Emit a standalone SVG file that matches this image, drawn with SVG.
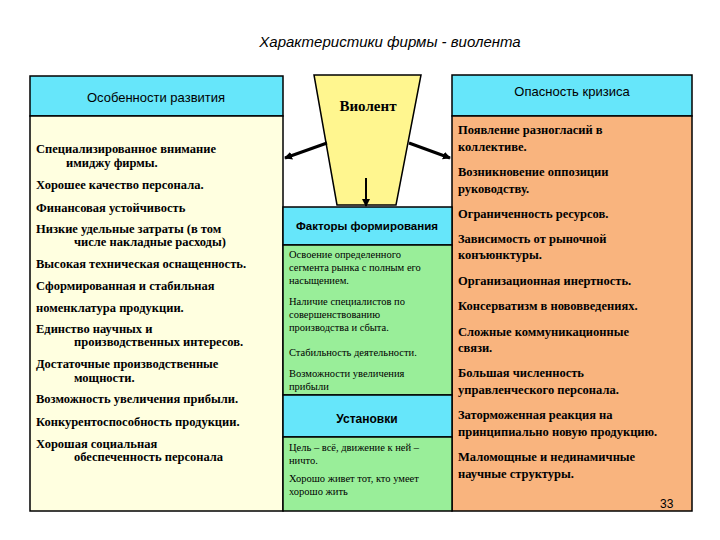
<svg xmlns="http://www.w3.org/2000/svg" width="720" height="540" viewBox="0 0 720 540">
<style>
.b{stroke:#000;stroke-width:1.5}
.h{font-family:'Liberation Sans',Arial,sans-serif;font-size:13px}
.t{font-family:'Liberation Serif','Times New Roman',serif;font-size:12.5px;font-weight:bold}
.s{font-family:'Liberation Serif','Times New Roman',serif;font-size:10.5px}
</style>
<defs><marker id="a" markerWidth="8" markerHeight="8" refX="7" refY="4" orient="auto" markerUnits="userSpaceOnUse"><path d="M0,0L8,4L0,8z"/></marker></defs>
<rect width="720" height="540" fill="#fff"/>
<text x="390" y="47" text-anchor="middle" font-family="Liberation Sans,Arial,sans-serif" font-size="15" font-style="italic">Характеристики фирмы - виолента</text>
<g id="left">
<rect x="30" y="76" width="253" height="40" fill="#66E6FA" class="b"/>
<rect x="30" y="116" width="253" height="395" fill="#FFFFE0" class="b"/>
<text class="h" x="156" y="102" text-anchor="middle">Особенности развития</text>
<g class="t" font-family="Liberation Serif, serif">
<text x="36" y="153">Специализированное внимание</text>
<text x="66" y="167">имиджу фирмы.</text>
<text x="36" y="189">Хорошее качество персонала.</text>
<text x="36" y="212">Финансовая устойчивость</text>
<text x="36" y="233">Низкие удельные затраты (в том</text>
<text x="74" y="246">числе накладные расходы)</text>
<text x="36" y="268">Высокая техническая оснащенность.</text>
<text x="36" y="290">Сформированная и стабильная</text>
<text x="36" y="312">номенклатура продукции.</text>
<text x="36" y="333">Единство научных и</text>
<text x="74" y="346">производственных интересов.</text>
<text x="36" y="368">Достаточные производственные</text>
<text x="74" y="382">мощности.</text>
<text x="36" y="403">Возможность увеличения прибыли.</text>
<text x="36" y="426">Конкурентоспособность продукции.</text>
<text x="36" y="448">Хорошая социальная</text>
<text x="74" y="461">обеспеченность персонала</text>
</g>
</g>
<g id="right">
<rect x="452" y="75" width="240" height="41" fill="#66E6FA" class="b"/>
<rect x="452" y="116" width="240" height="395" fill="#F9B47E" class="b"/>
<text class="h" x="572" y="96" text-anchor="middle">Опасность кризиса</text>
<g class="t" font-family="Liberation Serif, serif">
<text x="458" y="134">Появление разногласий в</text>
<text x="458" y="151">коллективе.</text>
<text x="458" y="176">Возникновение оппозиции</text>
<text x="458" y="193">руководству.</text>
<text x="458" y="218">Ограниченность ресурсов.</text>
<text x="458" y="243">Зависимость от рыночной</text>
<text x="458" y="259">конъюнктуры.</text>
<text x="458" y="285">Организационная инертность.</text>
<text x="458" y="310">Консерватизм в нововведениях.</text>
<text x="458" y="336">Сложные коммуникационные</text>
<text x="458" y="352">связи.</text>
<text x="458" y="377">Большая численность</text>
<text x="458" y="394">управленческого персонала.</text>
<text x="458" y="419">Заторможенная реакция на</text>
<text x="458" y="436">принципиально новую продукцию.</text>
<text x="458" y="461">Маломощные и нединамичные</text>
<text x="458" y="478">научные структуры.</text>
</g>
<text x="660" y="508" font-family="Liberation Sans,Arial,sans-serif" font-size="12">33</text>
</g>
<g id="violent">
<polygon points="314,75 421,75 396,205 337,205" fill="#FFF68F" class="b"/>
<text x="368" y="111" text-anchor="middle" font-family="Liberation Serif, serif" font-size="15" font-weight="bold">Виолент</text>
</g>
<g id="center">
<rect x="283" y="207" width="169" height="38" fill="#66E6FA" class="b"/>
<rect x="283" y="245" width="169" height="150" fill="#99EE99" class="b"/>
<rect x="283" y="395" width="169" height="42" fill="#66E6FA" class="b"/>
<rect x="283" y="437" width="169" height="74" fill="#99EE99" class="b"/>
<text x="367" y="230" text-anchor="middle" font-family="Liberation Sans,Arial,sans-serif" font-size="11.5" font-weight="bold">Факторы формирования</text>
<text x="367" y="423" text-anchor="middle" font-family="Liberation Sans,Arial,sans-serif" font-size="12" font-weight="bold">Установки</text>
<g class="s" font-family="Liberation Serif, serif">
<text x="289" y="258">Освоение определенного</text>
<text x="289" y="271">сегмента рынка с полным его</text>
<text x="289" y="284">насыщением.</text>
<text x="289" y="305">Наличие специалистов по</text>
<text x="289" y="318">совершенствованию</text>
<text x="289" y="331">производства и сбыта.</text>
<text x="289" y="356">Стабильность деятельности.</text>
<text x="289" y="377">Возможности увеличения</text>
<text x="289" y="390">прибыли</text>
<text x="289" y="451">Цель – всё, движение к ней –</text>
<text x="289" y="464">ничто.</text>
<text x="289" y="482">Хорошо живет тот, кто умеет</text>
<text x="289" y="495">хорошо жить</text>
</g>
</g>
<g id="connectors" stroke="#000" stroke-width="3" fill="none">
<line x1="327" y1="143" x2="285" y2="158" marker-end="url(#a)"/>
<line x1="409" y1="143" x2="450" y2="158" marker-end="url(#a)"/>
<line x1="366" y1="178" x2="366" y2="206" stroke-width="2" marker-end="url(#a)"/>
</g>
</svg>
